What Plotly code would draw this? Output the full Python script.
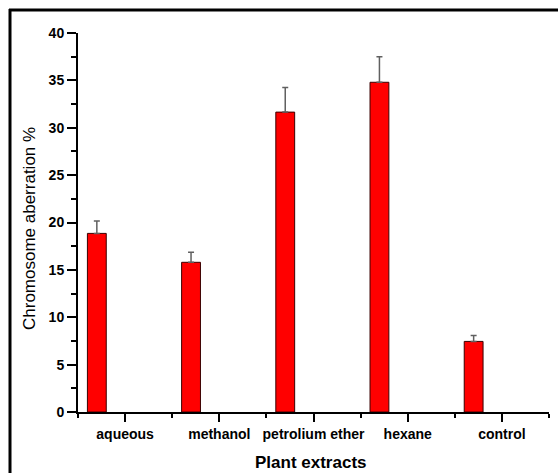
import plotly.graph_objects as go

categories = ["aqueous", "methanol", "petrolium ether", "hexane", "control"]
aberration = [18.85, 15.8, 31.65, 34.8, 7.45]
error_plus = [1.3, 1.05, 2.6, 2.7, 0.62]

W, H = 558, 473
ML, MR, MT, MB = 78, 9, 33, 61
pw, ph = W - ML - MR, H - MT - MB


def px_x(px):
    return (px - ML) / pw


def px_y(py):
    return (H - MB - py) / ph


xpos = list(range(len(categories)))

fig = go.Figure()
fig.add_trace(go.Bar(
    x=xpos, y=aberration,
    width=0.2, offset=-0.4,
    marker=dict(color="#ff0000", line=dict(color="#3a0000", width=1)),
    error_y=dict(type="data", array=error_plus, arrayminus=[0] * len(error_plus),
                 symmetric=False, color="#606060", thickness=1.5, width=3),
    showlegend=False,
))

font_family = "Liberation Sans, Arial, sans-serif"

fig.update_layout(
    width=W, height=H,
    margin=dict(l=ML, r=MR, t=MT, b=MB, pad=0, autoexpand=False),
    paper_bgcolor="white", plot_bgcolor="white",
    font=dict(family=font_family, color="black"),
    xaxis=dict(
        range=[-0.5, len(categories) - 0.5], automargin=False,
        tickmode="array", tickvals=xpos, ticktext=categories,
        tickfont=dict(size=14, weight=700),
        ticks="outside", ticklen=8, tickwidth=2, tickcolor="black",
        minor=dict(tickmode="linear", tick0=-0.5, dtick=1, ticks="outside",
                   ticklen=4, tickwidth=2, tickcolor="black"),
        showline=True, linecolor="black", linewidth=2,
        showgrid=False, zeroline=False,
    ),
    yaxis=dict(
        range=[0, 40], tickmode="linear", tick0=0, dtick=5, automargin=False,
        tickfont=dict(size=14, weight=700),
        ticks="outside", ticklen=9, tickwidth=2, tickcolor="black",
        minor=dict(dtick=2.5, ticks="outside", ticklen=5, tickwidth=2, tickcolor="black"),
        showline=True, linecolor="black", linewidth=2,
        showgrid=False, zeroline=False,
    ),
    annotations=[
        dict(text="<b>Plant extracts</b>", xref="paper", yref="paper",
             x=px_x(311), y=px_y(462), xanchor="center", yanchor="middle",
             showarrow=False, font=dict(size=17)),
        dict(text="Chromosome aberration %", xref="paper", yref="paper",
             x=px_x(29), y=px_y(229), xanchor="center", yanchor="middle",
             textangle=-90, showarrow=False, font=dict(size=17)),
    ],
    shapes=[
        dict(type="line", xref="paper", yref="paper",
             x0=px_x(9), x1=px_x(W), y0=px_y(10), y1=px_y(10),
             line=dict(color="black", width=3)),
        dict(type="line", xref="paper", yref="paper",
             x0=px_x(10), x1=px_x(10), y0=px_y(9), y1=px_y(H),
             line=dict(color="black", width=3)),
    ],
)

fig.write_html("out.html",
               config={"displayModeBar": False},
               post_script="document.body.style.margin='0';document.body.style.overflow='hidden';")
